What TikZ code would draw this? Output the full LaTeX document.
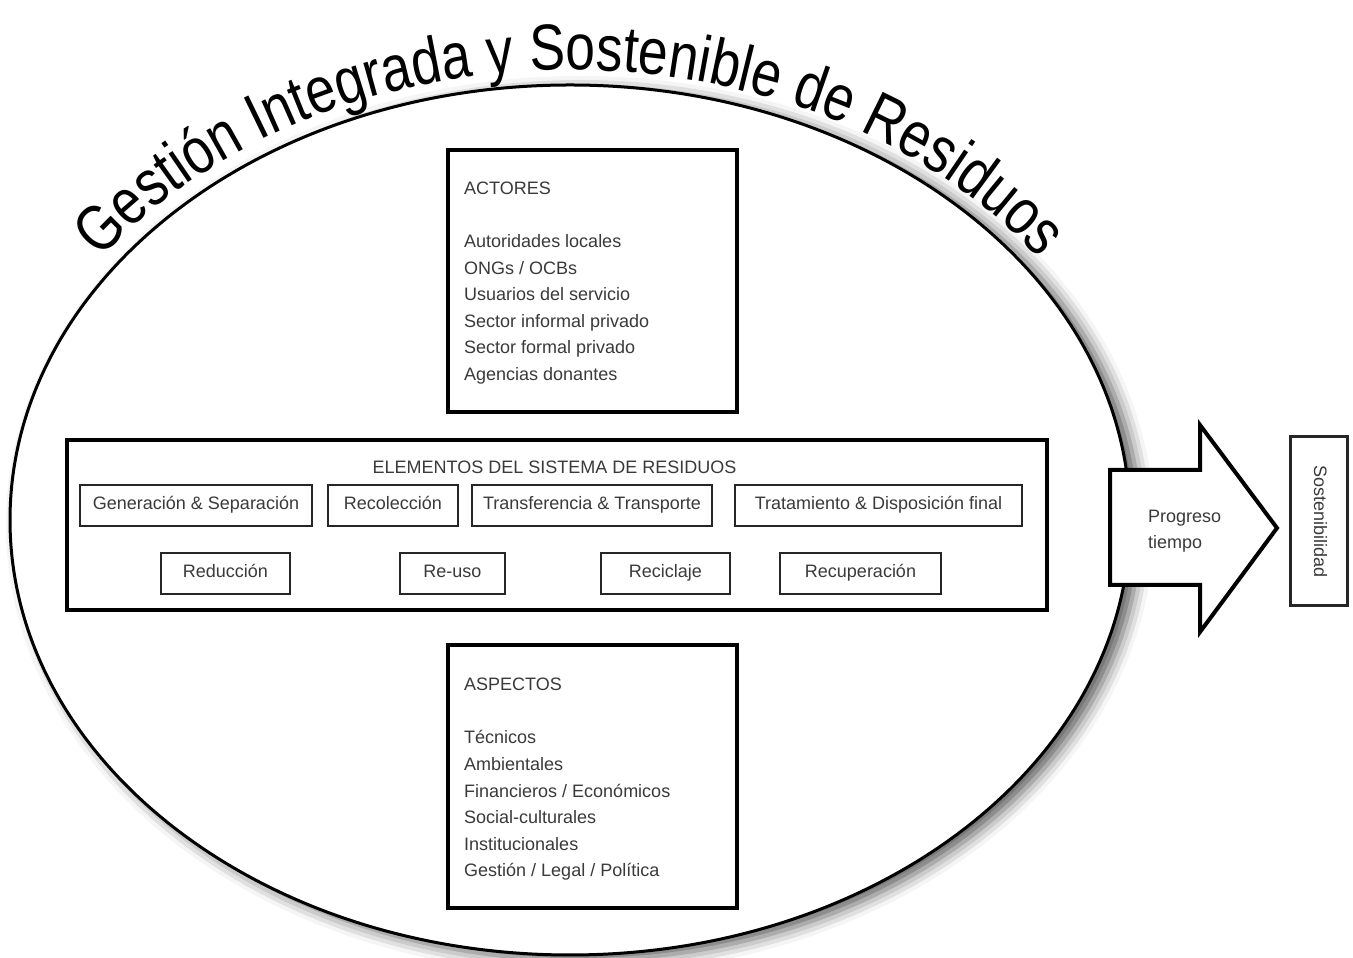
\documentclass[tikz,border=0pt]{standalone}
\usepackage{fontspec}
\setmainfont{Liberation Sans}
\newfontfamily\titlefont[FakeStretch=0.82]{Liberation Sans}
\usetikzlibrary{shapes.geometric,shadows.blur,decorations.text}
\definecolor{texto}{HTML}{3A3A3A}

\begin{document}
\begin{tikzpicture}[x=1pt, y=1pt,
    panel/.style={draw=black, line width=3.5pt, fill=white, inner sep=0pt},
    caja/.style={draw=black!85, line width=2pt, fill=white, inner sep=0pt,
      minimum height=41, text height=13, text depth=4,
      font=\fontsize{18}{22}\selectfont, text=texto},
    lista/.style={inner sep=0pt, font=\fontsize{18}{22}\selectfont, text=texto}]
    \useasboundingbox (0,0) rectangle (1353,958);

    % Ellipse
    \node[ellipse, draw, line width=3pt, fill=white, inner sep=0pt,
      minimum width=1120, minimum height=870,
      blur shadow={shadow xshift=10pt, shadow yshift=-5pt, shadow blur radius=14pt, shadow opacity=65}]
      (marco) at (570,438) {};

    % Title on the arc
    \path[decorate, decoration={text along path, text align=center,
        text={|\titlefont\fontsize{65}{65}\selectfont|Gestión Integrada y Sostenible de Residuos}}]
      (570,438) ++(172:576 and 450) arc[start angle=172, end angle=8, x radius=576, y radius=450];

    % Actores
    \node[panel, minimum width=289, minimum height=262] (actores) at (592.5,677) {};
    \node[lista, anchor=base west] (actores-t) at (464,763) {ACTORES};
    \foreach \t [count=\i] in {Autoridades locales, ONGs / OCBs, Usuarios del servicio,
        Sector informal privado, Sector formal privado, Agencias donantes}
      \node[lista, anchor=base west] (act\i) at (464,710-26.5*\i+26.5) {\t};

    % Elementos
    \node[panel, line width=4pt, minimum width=980, minimum height=170] (elementos) at (557,433) {};
    \node[lista, anchor=base] (elementos-t) at (554.5,484) {ELEMENTOS DEL SISTEMA DE RESIDUOS};
    \node[caja, minimum width=232] (gen) at (196,452.5) {Generación \& Separación};
    \node[caja, minimum width=130] (rec) at (393,452.5) {Recolección};
    \node[caja, minimum width=240] (trans) at (592,452.5) {Transferencia \& Transporte};
    \node[caja, minimum width=287] (trat) at (878.5,452.5) {Tratamiento \& Disposición final};
    \node[caja, minimum width=129] (red) at (225.5,384.5) {Reducción};
    \node[caja, minimum width=105] (reuso) at (452.5,384.5) {Re-uso};
    \node[caja, minimum width=129] (recic) at (665.5,384.5) {Reciclaje};
    \node[caja, minimum width=161] (recup) at (860.5,384.5) {Recuperación};

    % Aspectos
    \node[panel, minimum width=289, minimum height=263] (aspectos) at (592.5,181.5) {};
    \node[lista, anchor=base west] (aspectos-t) at (464,267) {ASPECTOS};
    \foreach \t [count=\i] in {Técnicos, Ambientales, Financieros / Económicos,
        Social-culturales, Institucionales, Gestión / Legal / Política}
      \node[lista, anchor=base west] (asp\i) at (464,214-26.6*\i+26.6) {\t};

    % Arrow and Sostenibilidad
    \draw[line width=4pt, fill=white, line join=miter]
      (1110,488) -- (1200,488) -- (1200,533) -- (1277,430) -- (1200,326) -- (1200,373) -- (1110,373) -- cycle;
    \node[lista, align=left, anchor=north west, font=\fontsize{18}{26}\selectfont] (progreso) at (1148,448) {Progreso\\tiempo};
    \node[caja, line width=3pt, rotate=-90, minimum width=169, minimum height=57] (sost) at (1318.5,436.5) {Sostenibilidad};
\end{tikzpicture}
\end{document}
